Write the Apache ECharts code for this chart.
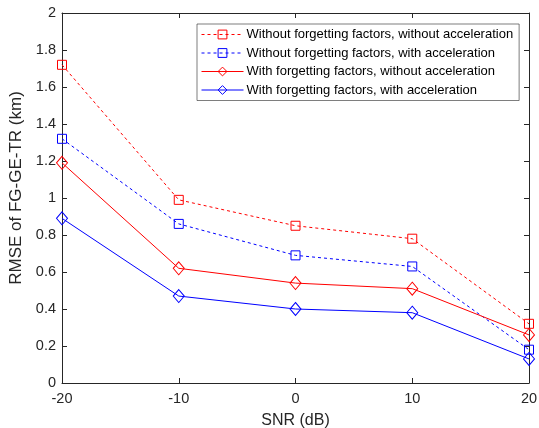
<!DOCTYPE html>
<html><head><meta charset="utf-8">
<script src="https://cdn.jsdelivr.net/npm/echarts@6/dist/echarts.min.js"></script>
<style>html,body{margin:0;padding:0;background:#fff}#c{width:539px;height:428px}</style>
</head><body><div id="c"></div>
<script>
const snr = [-20, -10, 0, 10, 20];
const seriesNames = [
  'Without forgetting factors, without acceleration',
  'Without forgetting factors, with acceleration',
  'With forgetting factors, without acceleration',
  'With forgetting factors, with acceleration'
];
const noFFnoAcc = [1.72, 0.99, 0.85, 0.78, 0.32];
const noFFAcc   = [1.32, 0.86, 0.69, 0.63, 0.18];
const ffNoAcc   = [1.19, 0.62, 0.54, 0.51, 0.26];
const ffAcc     = [0.89, 0.47, 0.40, 0.38, 0.13];

const font = 'Liberation Sans, Arial, sans-serif';
const axisCol = '#262626';
const pair = v => snr.map((x, i) => [x, v[i]]);

function mk(name, data, color, dashed, symbol, size) {
  return {
    name, type: 'line', data: pair(data),
    symbol, symbolSize: size,
    lineStyle: { color, width: 1, type: dashed ? [3, 3] : 'solid' },
    itemStyle: { color: 'rgba(255,255,255,0)', borderColor: color, borderWidth: 1 },
    emphasis: { disabled: true }, animation: false
  };
}

const chart = echarts.init(document.getElementById('c'));
function baseAxis() {
  return {
    axisLine: { show: true, onZero: false, lineStyle: { color: axisCol, width: 1 } },
    axisTick: { show: true, inside: true, length: 5, lineStyle: { color: axisCol } },
    splitLine: { show: false }
  };
}
chart.setOption({
  backgroundColor: '#fff',
  animation: false,
  grid: { left: 62, right: 10, top: 13, bottom: 45, containLabel: false, outerBoundsMode: 'none' },
  legend: {
    orient: 'vertical', left: 197, top: 24,
    data: seriesNames,
    itemWidth: 42, itemHeight: 11, itemGap: 5.5,
    padding: [4, 6, 4, 4],
    borderColor: axisCol, borderWidth: 0.6, backgroundColor: '#fff',
    lineStyle: { width: 1 },
    itemStyle: { borderWidth: 1 },
    textStyle: { fontFamily: font, fontSize: 13, color: '#000', padding: [0, 0, 0, -2] }
  },
  xAxis: [
    Object.assign(baseAxis(), {
      type: 'value', min: -20, max: 20, interval: 10,
      name: 'SNR (dB)', nameLocation: 'middle', nameGap: 30,
      nameTextStyle: { fontFamily: font, fontSize: 16, color: axisCol },
      axisLabel: { fontFamily: font, fontSize: 14.5, color: axisCol, margin: 8 }
    }),
    Object.assign(baseAxis(), {
      type: 'value', min: -20, max: 20, interval: 10, position: 'top',
      axisLabel: { show: false }
    })
  ],
  yAxis: [
    Object.assign(baseAxis(), {
      type: 'value', min: 0, max: 2, interval: 0.2,
      name: 'RMSE of FG-GE-TR (km)', nameLocation: 'middle', nameGap: 32,
      nameTextStyle: { fontFamily: font, fontSize: 17, color: axisCol, padding: [0, 0, 0, 20] },
      axisLabel: { fontFamily: font, fontSize: 14.5, color: axisCol, margin: 6 }
    }),
    Object.assign(baseAxis(), {
      type: 'value', min: 0, max: 2, interval: 0.2, position: 'right',
      axisLabel: { show: false }
    })
  ],
  series: [
    mk(seriesNames[0], noFFnoAcc, '#ff0000', true, 'rect', 9),
    mk(seriesNames[1], noFFAcc, '#0000ff', true, 'rect', 9),
    mk(seriesNames[2], ffNoAcc, '#ff0000', false, 'diamond', [11, 13]),
    mk(seriesNames[3], ffAcc, '#0000ff', false, 'diamond', [11, 13])
  ]
});
</script></body></html>
